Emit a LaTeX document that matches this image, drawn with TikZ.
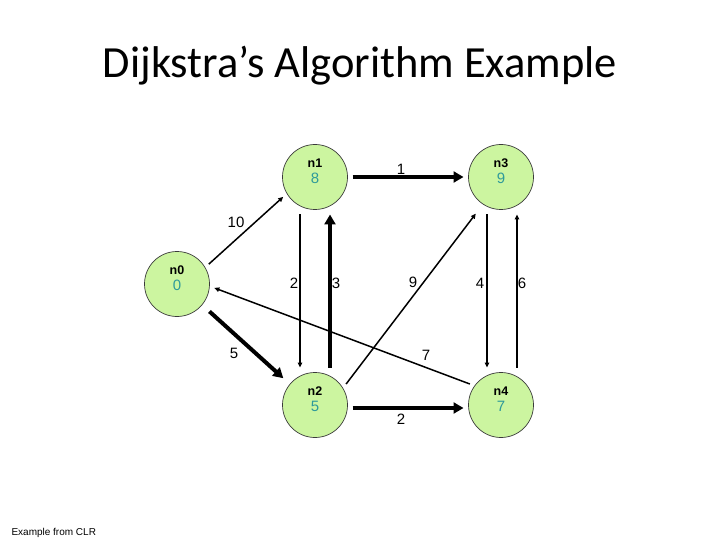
\documentclass[tikz,border=0pt]{standalone}
\usepackage{fontspec}
\setmainfont{Liberation Sans}
\newfontfamily\titlefont{Carlito}
\usetikzlibrary{arrows.meta}
\definecolor{nodefill}{HTML}{CCF5A0}
\definecolor{nodeline}{HTML}{3A3A3A}
\definecolor{dist}{HTML}{2E9A9A}
\newcommand{\dlab}[2]{\textbf{#1}\\{\fontsize{15}{16}\selectfont\textcolor{dist}{#2}}}

\begin{document}
\begin{tikzpicture}[x=1pt, y=-1pt,
      dnode/.style={circle, draw=nodeline, fill=nodefill, line width=0.7pt, minimum size=65pt, inner sep=0pt, outer sep=5pt},
      dtext/.style={align=center, yshift=6pt, inner sep=0pt, font=\fontsize{12.5}{16}\selectfont},
      wt/.style={font=\fontsize{15}{15}\selectfont, inner sep=0pt},
      thin/.style={-{Triangle[length=5pt, width=4.5pt]}, line width=1.5pt},
      heavy/.style={-{Triangle[length=10pt, width=11pt]}, line width=4pt}]
    \useasboundingbox (0,0) rectangle (720,540);
    \node[anchor=base, font=\titlefont\fontsize{44.5}{44.5}\selectfont] (title) at (360,78) {Dijkstra’s Algorithm Example};
    % vertices with their distance values
    \node[dnode, label={[dtext]center:{\dlab{n0}{0}}}] (n0) at (177,284) {};
    \node[dnode, label={[dtext]center:{\dlab{n1}{8}}}] (n1) at (315,177) {};
    \node[dnode, label={[dtext]center:{\dlab{n2}{5}}}] (n2) at (315,405) {};
    \node[dnode, label={[dtext]center:{\dlab{n3}{9}}}] (n3) at (501,177) {};
    \node[dnode, label={[dtext]center:{\dlab{n4}{7}}}] (n4) at (501,405) {};
    % edges
    \draw[thin] (n0.32) -- (n1.212);
    \draw[heavy, shorten <=5pt, shorten >=4pt] (n0.320) -- (n2.140);
    \draw[heavy] (n1.east) -- (n3.west);
    \draw[thin] ([xshift=-15pt]n1.south) -- ([xshift=-15pt]n2.north);
    \draw[heavy] ([xshift=15pt]n2.north) -- ([xshift=15pt]n1.south);
    \draw[thin, shorten >=7pt] (n2.34) -- (n3.236);
    \draw[heavy] ([yshift=-3pt]n2.east) -- ([yshift=-3pt]n4.west);
    \draw[thin] (n4.146) -- (n0.-6);
    \draw[thin] ([xshift=-14pt]n3.south) -- ([xshift=-14pt]n4.north);
    \draw[thin] ([xshift=16pt]n4.north) -- ([xshift=16pt]n3.south);
    % weights
    \node[wt] (w01) at (236,222) {10};
    \node[wt] (w02) at (234,353) {5};
    \node[wt] (w13) at (401,169) {1};
    \node[wt] (w12) at (294,283) {2};
    \node[wt] (w21) at (336,283) {3};
    \node[wt] (w23) at (413,282) {9};
    \node[wt] (w24) at (401,419) {2};
    \node[wt] (w40) at (426,355) {7};
    \node[wt] (w34) at (480,283) {4};
    \node[wt] (w43) at (522,283) {6};
    \node[anchor=base west, font=\fontsize{10}{10}\selectfont] (src) at (8,535) {Example from CLR};
  \end{tikzpicture}
\end{document}
